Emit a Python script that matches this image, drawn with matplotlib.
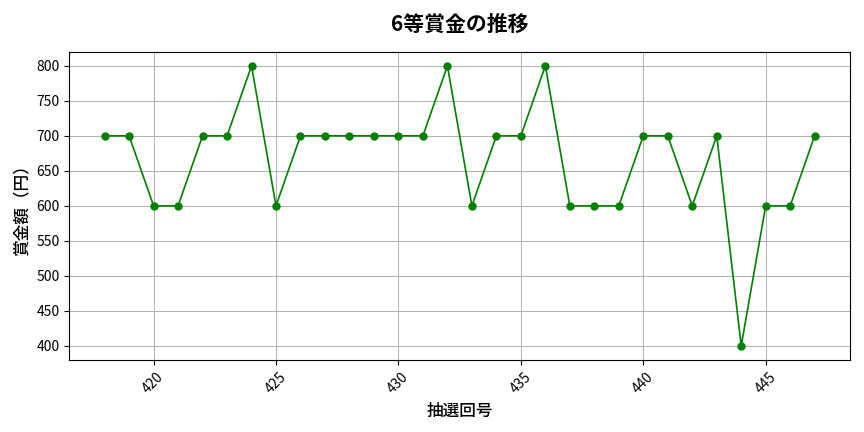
import matplotlib.pyplot as plt

plt.rcParams['font.family'] = ['Noto Sans CJK JP', 'DejaVu Sans']

# 抽選回号と6等賞金
draw_no = list(range(418, 448))
prize = [700, 700, 600, 600, 700, 700, 800, 600, 700, 700,
         700, 700, 700, 700, 800, 600, 700, 700, 800, 600,
         600, 600, 700, 700, 600, 700, 400, 600, 600, 700]

fig, ax = plt.subplots(figsize=(8.64, 4.32), dpi=100)
ax.plot(draw_no, prize, color='green', marker='o', markersize=5, linewidth=1.2)

ax.set_title('6等賞金の推移', fontsize=15, fontweight='bold', pad=15)
ax.set_xlabel('抽選回号', fontsize=12, fontweight='medium', labelpad=4)
ax.set_ylabel('賞金額（円）', fontsize=12, fontweight='medium', labelpad=4)
ax.grid(True, color='#b0b0b0', linewidth=0.7)
plt.setp(ax.get_xticklabels(), rotation=45)
ax.tick_params(labelsize=10)

plt.subplots_adjust(left=0.080, right=0.984, top=0.880, bottom=0.167)
plt.savefig('out.png')
